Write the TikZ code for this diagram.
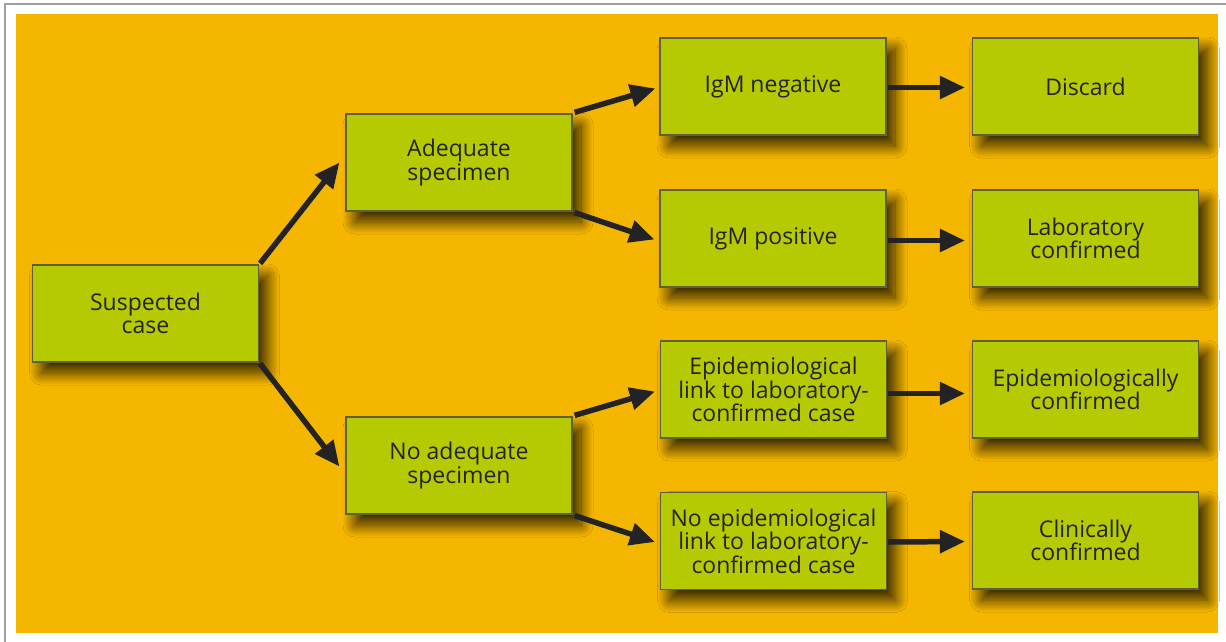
\documentclass[tikz,border=0pt]{standalone}
\usepackage{fontspec}
\setmainfont{Open Sans}
\usetikzlibrary{arrows.meta,shadows.blur}
\definecolor{bgor}{RGB}{245,182,0}
\definecolor{boxg}{RGB}{181,202,0}
\definecolor{boxb}{RGB}{95,95,70}
\definecolor{txt}{RGB}{35,35,38}
\definecolor{frm}{RGB}{160,160,160}
\tikzset{
  box/.style={draw=boxb, line width=1.2pt, fill=boxg, minimum width=226pt, minimum height=97pt,
    inner sep=0pt, align=center, text=txt, font=\fontsize{23}{23.5}\selectfont,
    blur shadow={shadow xshift=9pt, shadow yshift=-11pt, shadow blur radius=12pt, shadow opacity=80, shadow blur steps=24}},
  arr/.style={draw=txt, line width=5.5pt, -{Triangle[length=25pt,width=22pt]}},
}
\begin{document}
\begin{tikzpicture}[x=1pt,y=-1pt]
\useasboundingbox (0,0) rectangle (1226,642);
\fill[white] (0,0) rectangle (1226,642);
\draw[frm, line width=1.5pt] (5,642) -- (5,4) -- (1226,4);
\fill[bgor] (16,14) rectangle (1218,633);
\node[box] (sus) at (145.5,313.5) {Suspected\\case};
\node[box] (adq) at (459,162.5) {Adequate\\specimen};
\node[box] (nad) at (459,465.5) {No adequate\\specimen};
\node[box] (neg) at (773,86.5) {IgM negative};
\node[box] (pos) at (773,238.5) {IgM positive};
\node[box] (epi) at (773.5,389.5) {Epidemiological\\link to laboratory-\\confirmed case};
\node[box] (nep) at (773.5,541) {No epidemiological\\link to laboratory-\\confirmed case};
\node[box] (dis) at (1085.5,86.5) {Discard};
\node[box] (lab) at (1085.5,238.5) {Laboratory\\confirmed};
\node[box] (epc) at (1085.5,389.5) {Epidemiologically\\confirmed};
\node[box] (cli) at (1085.5,540.5) {Clinically\\confirmed};
\draw[arr] ([shift={(1,-1)}]sus.north east) -- ([xshift=-6pt]adq.west);
\draw[arr] ([shift={(1,1)}]sus.south east) -- ([xshift=-6pt,yshift=-1pt]nad.west);
\draw[arr] ([shift={(2,-1)}]adq.north east) -- ([xshift=-4pt,yshift=-2pt]neg.west);
\draw[arr] ([shift={(2,1)}]adq.south east) -- ([xshift=-5pt,yshift=-1pt]pos.west);
\draw[arr] ([shift={(2,-1)}]nad.north east) -- ([xshift=-5pt,yshift=-2pt]epi.west);
\draw[arr] ([shift={(2,1)}]nad.south east) -- ([xshift=-5pt,yshift=-1pt]nep.west);
\draw[arr] ([xshift=1pt,yshift=-1pt]neg.east) -- ([xshift=-7pt,yshift=-1pt]dis.west);
\draw[arr] ([xshift=1pt,yshift=-2pt]pos.east) -- ([xshift=-7pt,yshift=-2pt]lab.west);
\draw[arr] ([xshift=1pt,yshift=-4pt]epi.east) -- ([xshift=-7pt,yshift=-4pt]epc.west);
\draw[arr] ([xshift=1pt,yshift=-1pt]nep.east) -- ([xshift=-7pt,yshift=-1pt]cli.west);
\end{tikzpicture}
\end{document}
